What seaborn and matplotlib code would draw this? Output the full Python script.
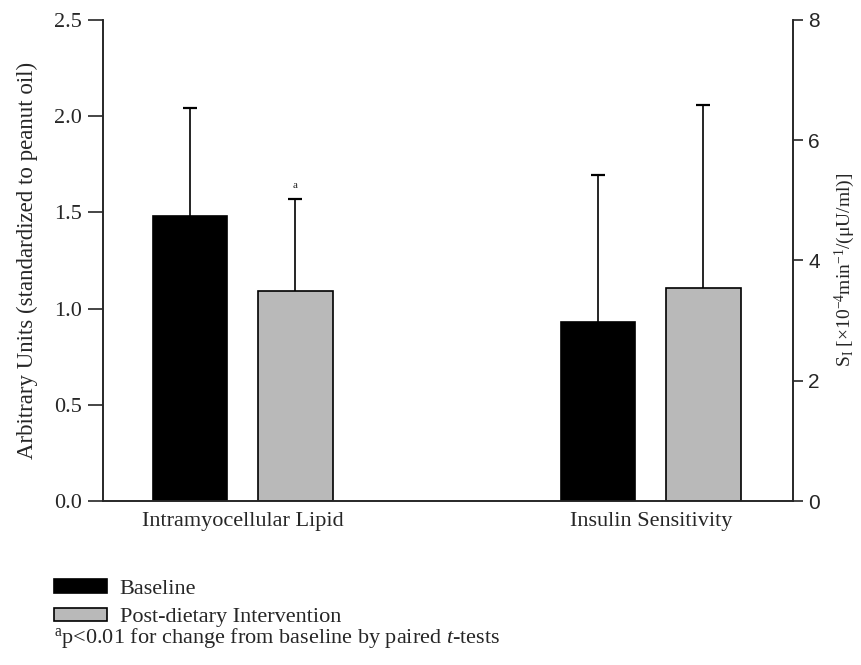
import numpy as np
import pandas as pd
import seaborn as sns
import matplotlib.pyplot as plt

# values (mean, upward SD)
categories = ["Intramyocellular Lipid", "Insulin Sensitivity"]
groups = ["Baseline", "Post-dietary Intervention"]
imcl_mean = [1.48, 1.09]
imcl_sd = [0.56, 0.48]
si_mean = [2.98, 3.55]
si_sd = [2.44, 3.04]
left_ticks = [0.0, 0.5, 1.0, 1.5, 2.0, 2.5]
right_ticks = [0, 2, 4, 6, 8]

sns.set_style("ticks")
plt.rcParams["font.family"] = ["Liberation Serif", "DejaVu Serif"]
plt.rcParams["mathtext.fontset"] = "custom"
plt.rcParams["mathtext.rm"] = "Liberation Serif"
plt.rcParams["mathtext.it"] = "Liberation Serif:italic"

imcl = pd.DataFrame({"cat": categories[0], "group": groups, "val": imcl_mean, "sd": imcl_sd})
si = pd.DataFrame({"cat": categories[1], "group": groups, "val": si_mean, "sd": si_sd})
pal = {"Baseline": "black", "Post-dietary Intervention": "#b9b9b9"}

fig = plt.figure(figsize=(8.61, 6.65), dpi=100)
ax = fig.add_axes([0.1196, 0.2466, 0.8014, 0.7234])
ax2 = ax.twinx()

sns.barplot(data=imcl, x="cat", y="val", hue="group", order=categories, hue_order=groups,
            palette=pal, edgecolor="black", linewidth=1.2, width=0.517, gap=0.29,
            errorbar=None, ax=ax)
sns.barplot(data=si, x="cat", y="val", hue="group", order=categories, hue_order=groups,
            palette=pal, edgecolor="black", linewidth=1.2, width=0.517, gap=0.29,
            errorbar=None, legend=False, ax=ax2)


def up_errors(a, df):
    bars = [p for p in a.patches if p.get_height() > 0]
    bars = sorted(bars, key=lambda p: p.get_x())
    xs = [p.get_x() + p.get_width() / 2 for p in bars]
    eb = a.errorbar(xs, df["val"], yerr=[np.zeros(len(df)), df["sd"]], fmt="none",
                    ecolor="black", elinewidth=1.2, capsize=5, capthick=1.6, zorder=1)
    eb[1][0].set_visible(False)
    return xs


xs = up_errors(ax, imcl)
up_errors(ax2, si)
ax.text(xs[1], imcl_mean[1] + imcl_sd[1] + 0.045, "a", ha="center", va="bottom", fontsize=8)

ax.set_xlim(-0.3425, 1.3487)
ax.set_ylim(0, 2.5)
ax2.set_ylim(0, 8)
ax.set_yticks(left_ticks)
ax.set_yticklabels([f"{t:.1f}" for t in left_ticks])
ax2.set_yticks(right_ticks)
ax2.set_yticklabels([str(t) for t in right_ticks], fontfamily="Liberation Sans")

ax.set_xlabel("")
ax.set_ylabel("Arbitrary Units (standardized to peanut oil)", fontsize=16.5, labelpad=12)
ax2.set_ylabel(r"S$_{\rm I}$ [×10$^{-4}$min$^{-1}$/(μU/ml)]", fontsize=14)
ax2.yaxis.set_label_coords(1.058, 0.48)

ax.tick_params(axis="x", length=0, labelsize=16, pad=8)
ax.tick_params(axis="y", length=11, width=1.2, labelsize=16, pad=4)
ax2.tick_params(axis="y", length=7, width=1.2, labelsize=15, pad=4)
for a in (ax, ax2):
    a.spines["top"].set_visible(False)
    for s in ("left", "right", "bottom"):
        a.spines[s].set_linewidth(1.2)

sns.move_legend(ax, "upper left", bbox_to_anchor=(-0.071, -0.163), title=None, frameon=False,
                fontsize=16, handlelength=2.4, handleheight=0.54, handletextpad=0.55,
                labelspacing=0.4, borderaxespad=0, borderpad=0)
fig.text(0.063, 0.033, r"$^{\rm a}$p<0.01 for change from baseline by paired $t$-tests",
         fontsize=16, ha="left", va="baseline")

fig.savefig("out.png", dpi=100)
